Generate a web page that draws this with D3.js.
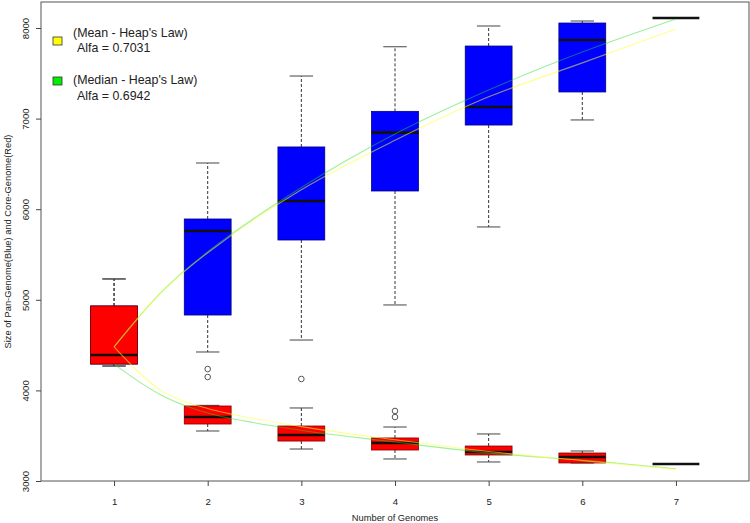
<!DOCTYPE html>
<html>
<head>
<meta charset="utf-8">
<script src="https://cdnjs.cloudflare.com/ajax/libs/d3/7.8.5/d3.min.js"></script>
<style>
  body { margin: 0; background: #fff; }
  text { font-family: "Liberation Sans", Arial, sans-serif; fill: #222; }
</style>
</head>
<body>
<div id="chartId"></div>
<script>
// genomes on the x axis
var genomes = [1, 2, 3, 4, 5, 6, 7];

// pan-genome (blue) box stats
var panLow  = [4269, 4424, 4556, 4943, 5804, 6985, 8110];
var panQ1   = [4291, 4832, 5660, 6201, 6929, 7294, 8110];
var panMed  = [4391, 5759, 6091, 6845, 7128, 7867, 8110];
var panQ3   = [4932, 5892, 6687, 7080, 7801, 8055, 8110];
var panHigh = [5230, 6510, 7470, 7793, 8022, 8077, 8110];
var panOut  = [[2, 4236], [2, 4148], [3, 4126]];

// core-genome (red) box stats
var coreLow  = [4269, 3552, 3353, 3243, 3210, 3199, 3188];
var coreQ1   = [4291, 3629, 3441, 3342, 3287, 3199, 3188];
var coreMed  = [4391, 3706, 3508, 3419, 3320, 3265, 3188];
var coreQ3   = [4932, 3828, 3607, 3475, 3386, 3309, 3188];
var coreHigh = [5230, 3835, 3806, 3596, 3519, 3331, 3188];
var coreOut  = [[4, 3773], [4, 3706]];

// heap's law curves
var curveX       = [1, 1.5, 2, 3, 4, 5, 6, 7];
var meanPan      = [4480, 5075, 5520, 6215, 6760, 7240, 7615, 7990];
var medianPan    = [4480, 5080, 5530, 6240, 6830, 7315, 7735, 8100];
var meanCore     = [4480, 4000, 3800, 3600, 3455, 3325, 3225, 3130];
var medianCore   = [4290, 3950, 3750, 3560, 3430, 3310, 3230, 3135];

var yTicks = [3000, 4000, 5000, 6000, 7000, 8000];
var legendLabels = ["(Mean - Heap's Law)", "(Median - Heap's Law)"];
var legendAlfa = ["Alfa = 0.7031", "Alfa = 0.6942"];

var W = 750, H = 523;
var mLeft = 41, mRight = 749, mTop = 2, mBottom = 481;

var svg = d3.select("#chartId").append("svg")
    .attr("width", W).attr("height", H);

var x = d3.scaleLinear().domain([0.22, 7.78]).range([mLeft, mRight]);
var y = d3.scaleLinear().domain([3000, 8287]).range([mBottom, mTop]);
var boxW = x(1.25) - x(1);

function drawBoxes(low, q1, med, q3, high, fill, border) {
    var rows = genomes.map(function(g, i) {
        return {g: g, low: low[i], q1: q1[i], med: med[i], q3: q3[i], high: high[i]};
    });
    var grp = svg.append("g");
    var b = grp.selectAll("g").data(rows).enter().append("g");

    // whiskers
    b.filter(function(d) { return d.high > d.q3; }).append("line")
        .attr("x1", function(d) { return x(d.g); }).attr("x2", function(d) { return x(d.g); })
        .attr("y1", function(d) { return y(d.q3); }).attr("y2", function(d) { return y(d.high); })
        .attr("stroke", "#333").attr("stroke-dasharray", "3,2");
    b.filter(function(d) { return d.low < d.q1; }).append("line")
        .attr("x1", function(d) { return x(d.g); }).attr("x2", function(d) { return x(d.g); })
        .attr("y1", function(d) { return y(d.q1); }).attr("y2", function(d) { return y(d.low); })
        .attr("stroke", "#333").attr("stroke-dasharray", "3,2");
    // staples
    ["low", "high"].forEach(function(k) {
        b.filter(function(d) { return d.q3 > d.q1; }).append("line")
            .attr("x1", function(d) { return x(d.g) - boxW / 2; })
            .attr("x2", function(d) { return x(d.g) + boxW / 2; })
            .attr("y1", function(d) { return y(d[k]); }).attr("y2", function(d) { return y(d[k]); })
            .attr("stroke", "#444");
    });
    // box
    b.filter(function(d) { return d.q3 > d.q1; }).append("rect")
        .attr("x", function(d) { return x(d.g) - boxW; })
        .attr("width", boxW * 2)
        .attr("y", function(d) { return y(d.q3); })
        .attr("height", function(d) { return y(d.q1) - y(d.q3); })
        .attr("fill", fill).attr("stroke", border).attr("stroke-width", 0.8);
    // median
    b.append("line")
        .attr("x1", function(d) { return x(d.g) - boxW; })
        .attr("x2", function(d) { return x(d.g) + boxW; })
        .attr("y1", function(d) { return y(d.med); }).attr("y2", function(d) { return y(d.med); })
        .attr("stroke", "#111").attr("stroke-width", 2.6);
}

function drawOutliers(pts) {
    svg.append("g").selectAll("circle").data(pts).enter().append("circle")
        .attr("cx", function(d) { return x(d[0]); })
        .attr("cy", function(d) { return y(d[1]); })
        .attr("r", 2.8)
        .attr("fill", "none").attr("stroke", "#555");
}

drawBoxes(panLow, panQ1, panMed, panQ3, panHigh, "#0000ff", "#000080");
drawBoxes(coreLow, coreQ1, coreMed, coreQ3, coreHigh, "#ff0000", "#800000");
drawOutliers(panOut);
drawOutliers(coreOut);

// heap's law curves
var line = d3.line()
    .x(function(d) { return x(d[0]); })
    .y(function(d) { return y(d[1]); })
    .curve(d3.curveCatmullRom);

function drawCurve(vals, color, op) {
    svg.append("path")
        .datum(curveX.map(function(v, i) { return [v, vals[i]]; }))
        .attr("d", line)
        .attr("fill", "none")
        .attr("stroke", color)
        .attr("stroke-opacity", op)
        .attr("stroke-width", 1.1);
}
drawCurve(medianPan, "#22dd22", 0.45);
drawCurve(medianCore, "#22dd22", 0.45);
drawCurve(meanPan, "#ffff33", 0.55);
drawCurve(meanCore, "#ffff33", 0.55);

// frame
svg.append("rect")
    .attr("x", mLeft).attr("y", mTop)
    .attr("width", mRight - mLeft).attr("height", mBottom - mTop)
    .attr("fill", "none").attr("stroke", "#555");

// axes
var yAxis = svg.append("g")
    .attr("transform", "translate(" + mLeft + ",0)")
    .call(d3.axisLeft(y).tickValues(yTicks).tickSize(5).tickFormat(d3.format("d")));
yAxis.select(".domain").remove();
yAxis.selectAll(".tick line").attr("stroke", "#444");
yAxis.selectAll(".tick text")
    .attr("transform", "rotate(-90)")
    .attr("x", 0).attr("y", -12)
    .attr("dy", 0)
    .attr("text-anchor", "middle")
    .style("font-size", "9.6px")
    .style("font-family", "Liberation Sans, Arial, sans-serif");

var xAxis = svg.append("g")
    .attr("transform", "translate(0," + mBottom + ")")
    .call(d3.axisBottom(x).tickValues(genomes).tickSize(5).tickFormat(d3.format("d")));
xAxis.select(".domain").remove();
xAxis.selectAll(".tick line").attr("stroke", "#444");
xAxis.selectAll(".tick text")
    .attr("y", 17)
    .style("font-size", "9.6px")
    .style("font-family", "Liberation Sans, Arial, sans-serif");

svg.append("text")
    .attr("x", (mLeft + mRight) / 2).attr("y", 521)
    .attr("text-anchor", "middle")
    .style("font-size", "9.3px")
    .text("Number of Genomes");

svg.append("text")
    .attr("transform", "translate(11," + ((mTop + mBottom) / 2) + ") rotate(-90)")
    .attr("text-anchor", "middle")
    .style("font-size", "9.3px")
    .text("Size of Pan-Genome(Blue) and Core-Genome(Red)");

// legend
var legendColors = ["#ffff00", "#00ee00"];
var legSquareY = [37, 77];
var legTextY = [[37, 52], [84, 100]];
var leg = svg.append("g");
legendLabels.forEach(function(lbl, i) {
    leg.append("rect")
        .attr("x", 53).attr("y", legSquareY[i])
        .attr("width", 9).attr("height", 8)
        .attr("fill", legendColors[i]).attr("stroke", "#333").attr("stroke-width", 0.8);
    leg.append("text")
        .attr("x", 73).attr("y", legTextY[i][0])
        .style("font-size", "12.4px")
        .text(lbl);
    leg.append("text")
        .attr("x", 77).attr("y", legTextY[i][1])
        .style("font-size", "12.4px")
        .text(legendAlfa[i]);
});
</script>
</body>
</html>
